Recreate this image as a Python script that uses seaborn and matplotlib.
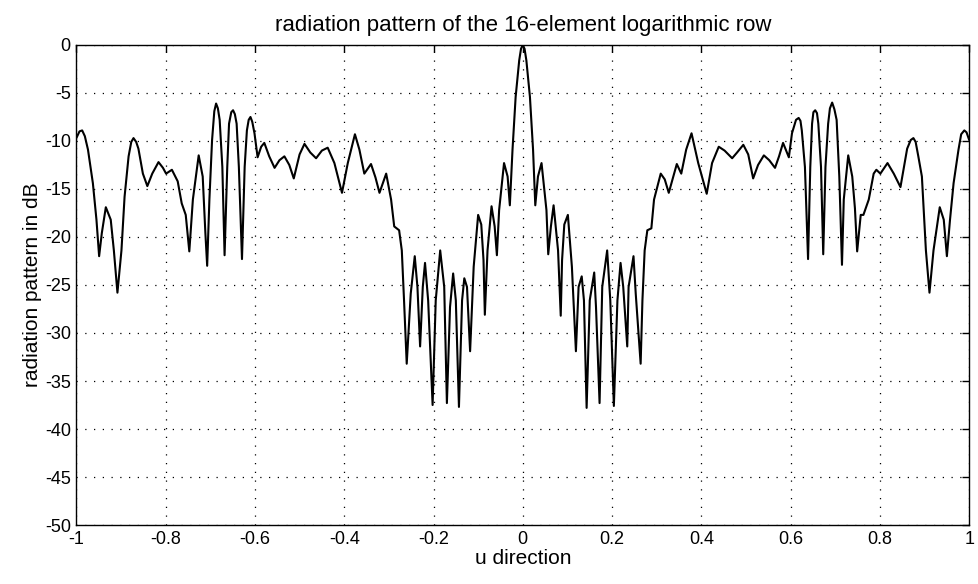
import matplotlib
matplotlib.use("Agg")
import matplotlib.pyplot as plt
import seaborn as sns
import pandas as pd

# ---- data (u, dB), left to right ----
u_outer_left = [-1.000, -0.993, -0.987, -0.981, -0.974, -0.963, -0.955, -0.949, -0.943, -0.934,
                -0.923, -0.916, -0.908, -0.899, -0.892, -0.883, -0.877, -0.872, -0.866, -0.861,
                -0.851, -0.841, -0.830, -0.816, -0.806, -0.799, -0.786, -0.773, -0.764, -0.755,
                -0.747, -0.739, -0.726, -0.717, -0.711, -0.707, -0.702, -0.696, -0.691, -0.687,
                -0.683, -0.679, -0.673, -0.668, -0.662, -0.658, -0.653, -0.649, -0.645, -0.641,
                -0.636, -0.629, -0.623, -0.618, -0.614, -0.610, -0.606, -0.601, -0.594, -0.586]
db_outer_left = [-9.7, -9.0, -8.9, -9.5, -10.9, -14.4, -18.2, -22.0, -19.6, -16.9,
                 -18.2, -21.4, -25.8, -21.4, -15.8, -11.6, -10.1, -9.7, -10.1, -10.8,
                 -13.4, -14.7, -13.4, -12.2, -12.8, -13.4, -13.0, -14.2, -16.5, -17.7,
                 -21.5, -16.1, -11.5, -13.7, -19.6, -23.0, -16.1, -9.9, -6.9, -6.1,
                 -6.6, -7.8, -12.7, -21.9, -12.7, -8.2, -7.0, -6.8, -7.2, -8.2,
                 -12.7, -22.3, -12.7, -8.9, -7.8, -7.5, -8.0, -9.2, -11.7, -10.6]

u_inner_left = [-0.579, -0.568, -0.556, -0.545, -0.534, -0.523, -0.513, -0.500, -0.489, -0.476,
                -0.463, -0.450, -0.437, -0.422, -0.405, -0.392, -0.376, -0.366, -0.355, -0.340,
                -0.330, -0.321, -0.306, -0.295, -0.288, -0.277, -0.271, -0.266, -0.260, -0.251,
                -0.242, -0.236, -0.230, -0.224, -0.219, -0.212, -0.202, -0.195, -0.185, -0.176,
                -0.170, -0.163, -0.156, -0.150, -0.143, -0.136, -0.131, -0.125, -0.118, -0.110,
                -0.100, -0.093, -0.088, -0.085, -0.079, -0.070, -0.063, -0.058, -0.053, -0.042,
                -0.034, -0.029, -0.023, -0.016, -0.008, -0.004]
db_inner_left = [-10.2, -11.6, -12.8, -12.0, -11.6, -12.5, -13.9, -11.4, -10.3, -11.2,
                 -11.8, -11.0, -10.7, -12.3, -15.4, -12.3, -9.3, -10.9, -13.4, -12.4,
                 -13.8, -15.4, -13.4, -16.1, -18.9, -19.3, -21.4, -26.6, -33.2, -25.9,
                 -22.0, -25.2, -31.4, -25.2, -22.7, -26.6, -37.5, -26.6, -21.4, -25.2,
                 -37.3, -27.3, -23.8, -26.6, -37.7, -26.6, -24.3, -25.2, -31.9, -23.1,
                 -17.7, -18.7, -22.4, -28.1, -21.4, -16.8, -18.9, -21.9, -17.2, -12.3,
                 -13.7, -16.7, -10.9, -5.4, -1.6, -0.4]

u_center = [0.000]
db_center = [0.0]

u_inner_right = [0.004, 0.008, 0.016, 0.023, 0.028, 0.034, 0.042, 0.053, 0.057, 0.063,
                 0.069, 0.079, 0.085, 0.088, 0.093, 0.101, 0.110, 0.119, 0.125, 0.132,
                 0.137, 0.143, 0.150, 0.160, 0.164, 0.172, 0.178, 0.189, 0.196, 0.204,
                 0.212, 0.219, 0.225, 0.234, 0.237, 0.248, 0.253, 0.264, 0.268, 0.273,
                 0.279, 0.288, 0.294, 0.309, 0.318, 0.327, 0.345, 0.355, 0.366, 0.378,
                 0.393, 0.412, 0.424, 0.439, 0.452, 0.469, 0.480, 0.494, 0.505, 0.516,
                 0.527, 0.540, 0.552, 0.565, 0.574, 0.583]
db_inner_right = [-0.4, -1.6, -5.4, -10.9, -16.7, -13.7, -12.3, -17.2, -21.8, -18.9,
                  -16.7, -21.4, -28.2, -22.4, -18.7, -17.7, -23.1, -31.9, -25.2, -24.1,
                  -26.6, -37.8, -26.6, -23.7, -27.3, -37.3, -25.2, -21.4, -26.6, -37.6,
                  -26.6, -22.7, -25.2, -31.4, -25.2, -22.0, -25.9, -33.2, -26.6, -21.4,
                  -19.3, -19.1, -16.1, -13.4, -14.0, -15.4, -12.4, -13.4, -10.9, -9.2,
                  -12.3, -15.5, -12.3, -10.6, -11.0, -11.8, -11.2, -10.4, -11.4, -13.9,
                  -12.5, -11.5, -12.0, -12.8, -11.6, -10.2]

u_outer_right = [0.596, 0.603, 0.612, 0.618, 0.622, 0.625, 0.632, 0.639, 0.644, 0.648,
                 0.651, 0.655, 0.659, 0.662, 0.668, 0.673, 0.678, 0.684, 0.688, 0.693,
                 0.698, 0.703, 0.709, 0.715, 0.719, 0.729, 0.738, 0.744, 0.749, 0.757,
                 0.763, 0.775, 0.786, 0.792, 0.801, 0.817, 0.831, 0.846, 0.861, 0.869,
                 0.875, 0.880, 0.886, 0.894, 0.903, 0.911, 0.920, 0.934, 0.943, 0.950,
                 0.957, 0.965, 0.976, 0.982, 0.989, 0.994, 1.000]
db_outer_right = [-11.7, -9.2, -7.8, -7.6, -7.9, -8.9, -12.7, -22.3, -12.7, -8.2,
                  -7.0, -6.8, -7.1, -8.2, -12.7, -21.8, -12.7, -8.2, -6.6, -6.0,
                  -6.7, -7.8, -13.7, -22.9, -16.1, -11.5, -13.7, -17.0, -21.5, -17.7,
                  -17.7, -16.1, -13.4, -13.0, -13.4, -12.3, -13.4, -14.8, -10.8, -9.9,
                  -9.7, -10.1, -11.6, -13.7, -21.4, -25.8, -21.4, -16.9, -18.2, -22.0,
                  -18.2, -14.4, -10.9, -9.3, -8.9, -9.1, -9.9]

x_ticks = [-1, -0.8, -0.6, -0.4, -0.2, 0, 0.2, 0.4, 0.6, 0.8, 1]
x_ticklabels = ["-1", "-0.8", "-0.6", "-0.4", "-0.2", "0", "0.2", "0.4", "0.6", "0.8", "1"]
y_ticks = [0, -5, -10, -15, -20, -25, -30, -35, -40, -45, -50]
title_text = "radiation pattern of the 16-element logarithmic row"
x_label = "u direction"
y_label = "radiation pattern in dB"

df = pd.DataFrame({
    "u": u_outer_left + u_inner_left + u_center + u_inner_right + u_outer_right,
    "dB": db_outer_left + db_inner_left + db_center + db_inner_right + db_outer_right,
})

sns.set_style("white")
plt.rcParams["font.family"] = ["Liberation Sans", "DejaVu Sans"]

fig = plt.figure(figsize=(9.79, 5.84), dpi=100)
ax = fig.add_axes([0.078, 0.101, 0.912, 0.822])

sns.lineplot(data=df, x="u", y="dB", estimator=None, sort=False,
             color="black", linewidth=1.5, ax=ax)

ax.set_xlim(-1, 1)
ax.set_ylim(-50, 0)
ax.set_xticks(x_ticks)
ax.set_xticklabels(x_ticklabels)
ax.set_yticks(y_ticks)
ax.set_yticklabels([str(v) for v in y_ticks])
ax.grid(True, color="black", linestyle=(0, (1, 6)), linewidth=0.9)
ax.tick_params(direction="in", top=True, right=True, length=5, width=1,
               labelsize=13, colors="black", pad=4)
for s in ax.spines.values():
    s.set_color("black")
    s.set_linewidth(1.0)
ax.set_title(title_text, fontsize=16, pad=10, color="black")
ax.set_xlabel(x_label, fontsize=15, labelpad=1, color="black")
ax.set_ylabel(y_label, fontsize=15, labelpad=2, color="black")

fig.savefig("out.png", dpi=100)
